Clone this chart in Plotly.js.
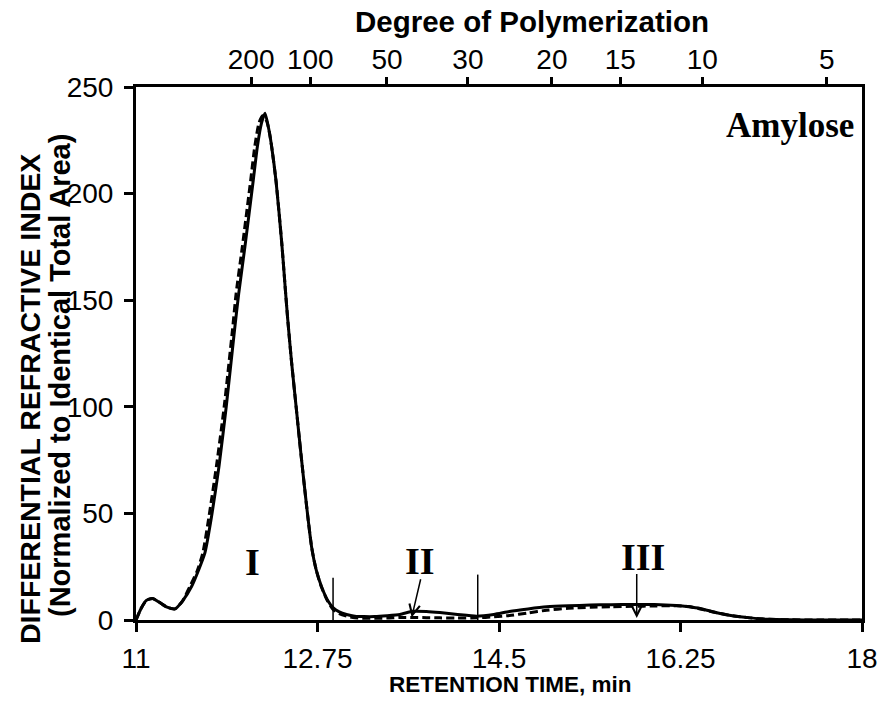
<!DOCTYPE html>
<html>
<head>
<meta charset="utf-8">
<script src="https://cdn.plot.ly/plotly-3.0.1.min.js"></script>
<style>html,body{margin:0;padding:0;background:#fff;}</style>
</head>
<body>
<div id="chart" style="width:881px;height:702px;"></div>
<script>
// Retention time (min) and detector response, solid curve
const solidTime = [11.00, 11.05, 11.10, 11.16, 11.22, 11.30, 11.376, 11.45, 11.537, 11.60, 11.665, 11.73, 11.80, 11.87, 11.95, 11.99, 12.05, 12.13, 12.17, 12.21, 12.244, 12.285, 12.308, 12.35, 12.405, 12.44, 12.463, 12.50, 12.546, 12.59, 12.646, 12.694, 12.74, 12.79, 12.85, 12.902, 12.96, 13.03, 13.11, 13.20, 13.30, 13.42, 13.545, 13.67, 13.80, 13.93, 14.10, 14.285, 14.45, 14.60, 14.78, 14.96, 15.17, 15.38, 15.58, 15.79, 16.00, 16.21, 16.33, 16.44, 16.60, 16.75, 16.92, 17.10, 17.30, 17.60, 18.00];
const solidSignal = [0, 5.5, 9.2, 10.1, 8.5, 6.0, 5.2, 9.0, 15.8, 23, 31.6, 49, 72, 100, 136, 153, 175, 206, 222, 233, 237.7, 229, 222, 206, 177, 155, 141, 121, 99, 78, 53, 34, 23, 15.5, 9, 5.7, 3.8, 2.6, 1.8, 1.6, 1.6, 2.0, 2.6, 4.1, 4.0, 3.5, 2.6, 1.8, 2.6, 4.0, 5.2, 6.2, 6.7, 7.0, 7.2, 7.3, 7.3, 6.8, 6.2, 5.4, 3.4, 2.0, 1.0, 0.3, 0.1, 0, 0];

// Dashed curve
const dashedTime = [11.00, 11.05, 11.10, 11.16, 11.22, 11.30, 11.376, 11.45, 11.52, 11.59, 11.645, 11.705, 11.775, 11.85, 11.93, 11.965, 12.025, 12.105, 12.145, 12.185, 12.22, 12.26, 12.285, 12.308, 12.35, 12.405, 12.44, 12.463, 12.50, 12.546, 12.59, 12.646, 12.694, 12.74, 12.79, 12.85, 12.90, 12.96, 13.03, 13.11, 13.20, 13.30, 13.42, 13.545, 13.67, 13.80, 13.93, 14.10, 14.29, 14.45, 14.60, 14.78, 14.96, 15.17, 15.38, 15.58, 15.79, 16.00, 16.21, 16.33, 16.44, 16.60, 16.75, 16.92, 17.10, 17.30, 17.60, 18.00];
const dashedSignal = [0, 5.5, 9.2, 10.1, 8.5, 6.0, 5.2, 9.0, 15.8, 23, 31.6, 49, 72, 100, 136, 153, 175, 206, 222, 233, 236.5, 234, 229, 222, 206, 177, 155, 141, 121, 99, 78, 53, 34, 23, 15.2, 8.7, 5, 3, 1.8, 1.0, 0.8, 0.8, 0.9, 1.2, 1.2, 1.1, 1.0, 0.9, 1.0, 1.5, 2.1, 3.3, 4.6, 5.5, 6.0, 6.2, 6.4, 6.6, 6.7, 6.3, 5.2, 3.4, 2.0, 1.0, 0.3, 0.1, 0, 0];

// Axis ticks
const rtTicks = [11, 12.75, 14.5, 16.25, 18];
const rtTickText = ['11', '12.75', '14.5', '16.25', '18'];
const yTicks = [0, 50, 100, 150, 200, 250];
const dpTimes = [12.11, 12.68, 13.42, 14.20, 15.01, 15.67, 16.46, 17.66];
const dpLabels = ['200', '100', '50', '30', '20', '15', '10', '5'];

// Fraction markers
const dividerTimes = [12.90, 14.295];
const dividerHeights = [19.8, 21.3];
const fractionLabels = ['I', 'II', 'III'];
const fractionLabelTime = [12.123, 13.738, 15.89];
const fractionLabelY = [27, 27.5, 29.5];
const arrowTailTime = [13.748, 15.828];
const arrowTailY = [19.8, 22.3];
const arrowHeadTime = [13.658, 15.828];
const arrowHeadY = [1.2, 0.9];

const traces = [
  {x: solidTime, y: solidSignal, type: 'scatter', mode: 'lines', line: {color: 'black', width: 3, shape: 'spline', smoothing: 0.6}, hoverinfo: 'skip'},
  {x: dashedTime, y: dashedSignal, xaxis: 'x2', type: 'scatter', mode: 'lines', line: {color: 'black', width: 3, dash: '8px,4px', shape: 'spline', smoothing: 0.6}, hoverinfo: 'skip'}
];

const shapes = dividerTimes.map((t, i) => ({
  type: 'line', xref: 'x', yref: 'y', x0: t, x1: t, y0: 0, y1: dividerHeights[i],
  line: {color: 'black', width: 1.5}
}));

const L = 136, R = 862, T = 87, B = 620;
const px = v => (v - L) / (R - L);
const py = v => (B - v) / (B - T);

const annotations = [];
fractionLabels.forEach((s, i) => {
  annotations.push({x: fractionLabelTime[i], y: fractionLabelY[i], xref: 'x', yref: 'y', text: '<b>' + s + '</b>', showarrow: false,
    xanchor: 'center', yanchor: 'middle', font: {family: 'Liberation Serif, Times New Roman, serif', size: 38, color: 'black'}});
});
arrowTailTime.forEach((t, i) => {
  annotations.push({x: arrowHeadTime[i], y: arrowHeadY[i], ax: t, ay: arrowTailY[i], xref: 'x', yref: 'y', axref: 'x', ayref: 'y',
    text: '', showarrow: true, arrowhead: 5, arrowsize: 1.4, arrowwidth: 1.5, arrowcolor: 'black', standoff: 0, startstandoff: 0});
});
annotations.push({x: px(790), y: py(126), xref: 'paper', yref: 'paper', text: '<b>Amylose</b>', showarrow: false,
  xanchor: 'center', yanchor: 'middle', font: {family: 'Liberation Serif, Times New Roman, serif', size: 35, color: 'black'}});
annotations.push({x: px(532), y: py(21), xref: 'paper', yref: 'paper', text: '<b>Degree of Polymerization</b>', showarrow: false,
  xanchor: 'center', yanchor: 'middle', font: {family: 'Liberation Sans, Arial, sans-serif', size: 29.5, color: 'black'}});
annotations.push({x: px(510), y: py(684), xref: 'paper', yref: 'paper', text: '<b>RETENTION TIME, min</b>', showarrow: false,
  xanchor: 'center', yanchor: 'middle', font: {family: 'Liberation Sans, Arial, sans-serif', size: 22.5, color: 'black'}});
annotations.push({x: px(30), y: py(399), xref: 'paper', yref: 'paper', text: '<b>DIFFERENTIAL REFRACTIVE INDEX</b>', showarrow: false, textangle: -90,
  xanchor: 'center', yanchor: 'middle', font: {family: 'Liberation Sans, Arial, sans-serif', size: 28.5, color: 'black'}});
annotations.push({x: px(60), y: py(376), xref: 'paper', yref: 'paper', text: '<b>(Normalized to Identical Total Area)</b>', showarrow: false, textangle: -90,
  xanchor: 'center', yanchor: 'middle', font: {family: 'Liberation Sans, Arial, sans-serif', size: 29, color: 'black'}});

const axisCommon = {showgrid: false, zeroline: false, ticks: 'outside', ticklen: 9, tickwidth: 3, tickcolor: 'black',
  tickfont: {family: 'Liberation Sans, Arial, sans-serif', size: 28, color: 'black'}, fixedrange: true};

const layout = {
  width: 881, height: 702,
  margin: {l: L, r: 881 - R, t: T, b: 702 - B, pad: 0},
  paper_bgcolor: 'white', plot_bgcolor: 'white', showlegend: false,
  font: {family: 'Liberation Sans, Arial, sans-serif', color: 'black'},
  xaxis: Object.assign({}, axisCommon, {range: [11, 18], tickmode: 'array', tickvals: rtTicks, ticktext: rtTickText,
    showline: true, linewidth: 3, linecolor: 'black', mirror: true, ticklabelstandoff: 2}),
  xaxis2: Object.assign({}, axisCommon, {range: [11, 18], overlaying: 'x', side: 'top', anchor: 'y', tickmode: 'array',
    tickvals: dpTimes, ticktext: dpLabels, showline: false, ticklabelstandoff: -3}),
  yaxis: Object.assign({}, axisCommon, {range: [0, 250], tickmode: 'array', tickvals: yTicks,
    showline: true, linewidth: 3, linecolor: 'black', mirror: true, ticklabelstandoff: 5}),
  shapes: shapes,
  annotations: annotations
};

Plotly.newPlot('chart', traces, layout, {staticPlot: true, displayModeBar: false});
</script>
</body>
</html>
